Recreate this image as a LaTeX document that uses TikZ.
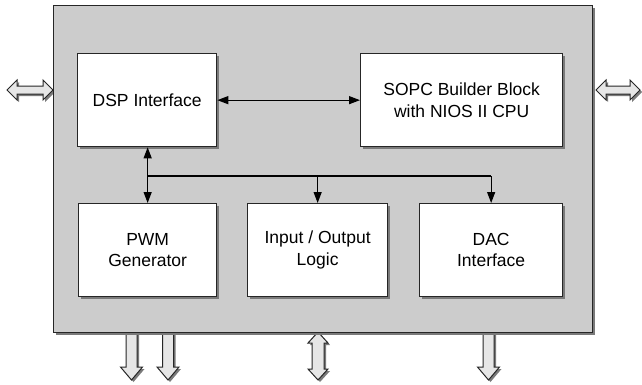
\documentclass[tikz,border=0pt]{standalone}
\usepackage{fontspec}
\setmainfont{Liberation Sans}
\usetikzlibrary{shadows,arrows.meta,calc}
\definecolor{panel}{HTML}{CCCCCC}
\definecolor{pin}{HTML}{E6E6E6}
\definecolor{shade}{HTML}{7A7A7A}
\newcommand\blkdown[1]{\draw[blk] ({#1-5.5},332) -- ({#1-5.5},367) -- ({#1-11},367) -- (#1,380) -- ({#1+11},367) -- ({#1+5.5},367) -- ({#1+5.5},332) -- cycle;}
\begin{document}
\begin{tikzpicture}[x=1pt,y=-1pt,
  shd/.style={drop shadow={shadow xshift=2pt,shadow yshift=-2pt,fill=shade,opacity=1}},
  bigbox/.style={draw=black!85,line width=1.3pt,fill=panel,shd,inner sep=0pt},
  box/.style={draw=black!85,line width=1.3pt,fill=white,shd,inner sep=0pt,align=center,
    font=\fontsize{17.5}{21.5}\selectfont},
  blk/.style={draw=black!85,line width=1pt,fill=pin,shd,line join=miter},
  conn/.style={draw=black,line width=1.2pt},
  tip/.style={-{Triangle[length=11pt,width=8pt]}},
  tips/.style={{Triangle[length=11pt,width=8pt]}-{Triangle[length=11pt,width=8pt]}}]
\useasboundingbox (0,0) rectangle (642,384);
% bottom pins
\blkdown{131.5}
\blkdown{168}
\blkdown{488.5}
\draw[blk] (318,332) -- (328,343) -- (324,343) -- (324,369) -- (328,369) -- (318,380) -- (308,369) -- (312,369) -- (312,343) -- (308,343) -- cycle;
% side pins
\draw[blk] (7,90) -- (17,80) -- (17,86) -- (43,86) -- (43,80) -- (53,90) -- (43,100) -- (43,94) -- (17,94) -- (17,100) -- cycle;
\draw[blk] (596,90) -- (606,80) -- (606,86) -- (630,86) -- (630,80) -- (640,90) -- (630,100) -- (630,94) -- (606,94) -- (606,100) -- cycle;
% main panel
\node[bigbox,minimum width=539pt,minimum height=327pt,anchor=north west] (main) at (53,5) {};
% blocks
\node[box,minimum width=139pt,minimum height=93pt,anchor=north west] (dsp) at (77,53) {DSP Interface};
\node[box,minimum width=202pt,minimum height=93pt,anchor=north west] (sopc) at (360,53) {SOPC Builder Block\\with NIOS II CPU};
\node[box,minimum width=138pt,minimum height=93pt,anchor=north west] (pwm) at (78,203) {PWM\\Generator};
\node[box,minimum width=140pt,minimum height=93pt,anchor=north west] (io) at (247,203) {Input / Output\\Logic};
\node[box,minimum width=143pt,minimum height=93pt,anchor=north west] (dac) at (419,203) {DAC\\Interface};
% connectors
\draw[conn,tips] (dsp.east) -- (sopc.west);
\draw[conn,tips] (pwm.north |- dsp.south) -- (pwm.north);
\coordinate (j) at ($(pwm.north)+(0,-27)$);
\draw[conn] (j) -- (dac.north |- j);
\draw[conn,tip] (io.north |- j) -- (io.north);
\draw[conn,tip] (dac.north |- j) -- (dac.north);
\end{tikzpicture}
\end{document}
